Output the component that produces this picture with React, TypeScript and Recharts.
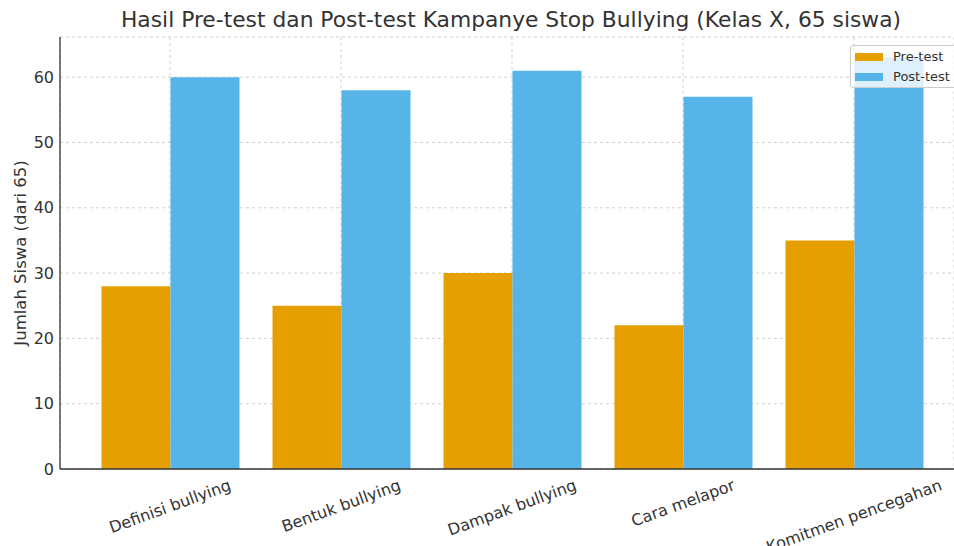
import React from 'react';
import { BarChart, Bar, XAxis, YAxis, CartesianGrid } from 'recharts';

const categories = ['Definisi bullying', 'Bentuk bullying', 'Dampak bullying', 'Cara melapor', 'Komitmen pencegahan'];
const preTest = [28, 25, 30, 22, 35];
const postTest = [60, 58, 61, 57, 63];
const yTicks = [0, 10, 20, 30, 40, 50, 60];

const FONT = '"DejaVu Sans", sans-serif';
const PRE_COLOR = '#E69F00';
const POST_COLOR = '#56B4E9';
const TICK_FS = 16;

const data = categories.map((name, i) => ({ name, pre: preTest[i], post: postTest[i] }));

let ctx: CanvasRenderingContext2D | null = null;
const measure = (text: string, fs: number) => {
  if (!ctx) ctx = document.createElement('canvas').getContext('2d');
  if (!ctx) return text.length * fs * 0.5;
  ctx.font = `${fs}px "DejaVu Sans"`;
  return ctx.measureText(text).width;
};

// rotated label, centered like matplotlib (ha=center, top of rotated box under the tick)
const XTick = (props: any) => {
  const { x, y, payload } = props;
  const text: string = payload.value;
  const w = measure(text, TICK_FS);
  const rad = (20 * Math.PI) / 180;
  const boxH = w * Math.sin(rad) + TICK_FS * 1.1 * Math.cos(rad);
  const cy = y + 3 + boxH / 2;
  return (
    <g transform={`translate(${x},${cy}) rotate(-20)`}>
      <text textAnchor="middle" dy="0.35em" fontSize={TICK_FS} fill="#333" fontFamily={FONT}>
        {text}
      </text>
    </g>
  );
};

const legendItems: [string, string][] = [['Pre-test', PRE_COLOR], ['Post-test', POST_COLOR]];

export default function App() {
  return (
    <div style={{ position: 'absolute', left: 0, top: 0, width: 954, height: 546, background: '#fff', overflow: 'hidden' }}>
      <div
        style={{
          position: 'absolute',
          top: 7,
          left: 0,
          width: 1022,
          textAlign: 'center',
          fontFamily: FONT,
          fontSize: 21.8,
          color: '#333',
          whiteSpace: 'nowrap',
        }}
      >
        Hasil Pre-test dan Post-test Kampanye Stop Bullying (Kelas X, 65 siswa)
      </div>
      <div
        style={{
          position: 'absolute',
          left: 20,
          top: 253,
          transform: 'translate(-50%, -50%) rotate(-90deg)',
          fontFamily: FONT,
          fontSize: 16.5,
          color: '#333',
          whiteSpace: 'nowrap',
        }}
      >
        Jumlah Siswa (dari 65)
      </div>
      <BarChart
        width={954}
        height={546}
        data={data}
        margin={{ top: 37, right: 0, bottom: 0, left: 0 }}
        barCategoryGap={17}
        barGap={0}
        style={{ position: 'absolute', left: 0, top: 0 }}
      >
        <CartesianGrid stroke="#cfcfcf" strokeDasharray="3 3" />
        <XAxis
          dataKey="name"
          padding={{ left: 24.5, right: 14.5 }}
          tick={<XTick />}
          tickSize={4}
          tickMargin={0}
          interval={0}
          height={77}
          axisLine={{ stroke: '#333', strokeWidth: 1.3 }}
          tickLine={false}
        />
        <YAxis
          width={60}
          domain={[0, 66.15]}
          ticks={yTicks}
          allowDataOverflow
          tickSize={0}
          tickMargin={6}
          tick={{ fontSize: TICK_FS, fill: '#333', fontFamily: FONT }}
          axisLine={{ stroke: '#333', strokeWidth: 1.3 }}
          tickLine={false}
        />
        <Bar dataKey="pre" name="Pre-test" fill={PRE_COLOR} isAnimationActive={false} />
        <Bar dataKey="post" name="Post-test" fill={POST_COLOR} isAnimationActive={false} />
      </BarChart>
      <div
        style={{
          position: 'absolute',
          top: 45,
          left: 850,
          width: 120,
          height: 43,
          boxSizing: 'border-box',
          background: 'rgba(255,255,255,0.8)',
          border: '1px solid #ccc',
          borderRadius: 3,
          padding: '1px 0 0 4px',
          fontFamily: FONT,
          fontSize: 13,
          color: '#333',
          lineHeight: '20px',
        }}
      >
        {legendItems.map(([label, color]) => (
          <div key={label} style={{ display: 'flex', alignItems: 'center' }}>
            <span style={{ display: 'inline-block', width: 28, height: 8, background: color, marginRight: 10 }} />
            <span>{label}</span>
          </div>
        ))}
      </div>
    </div>
  );
}
